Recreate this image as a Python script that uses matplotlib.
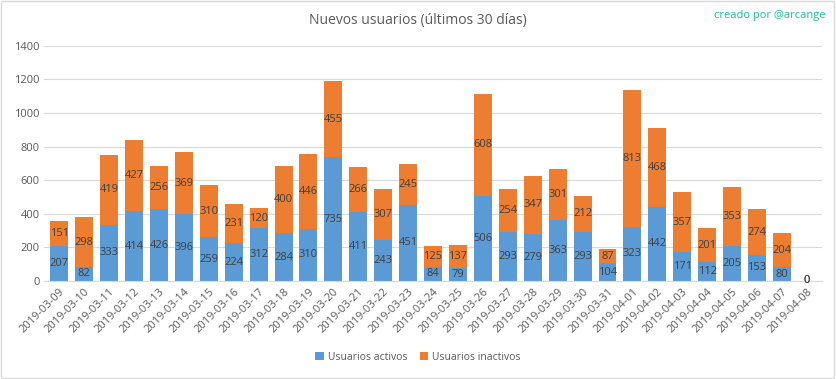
import numpy as np
import pandas as pd
import matplotlib.pyplot as plt

# Data
fechas = pd.date_range('2019-03-09', '2019-04-08').strftime('%Y-%m-%d').tolist()
activos = [207, 82, 333, 414, 426, 396, 259, 224, 312, 284, 310, 735, 411, 243, 451,
           84, 79, 506, 293, 279, 363, 293, 104, 323, 442, 171, 112, 205, 153, 80, 0]
inactivos = [151, 298, 419, 427, 256, 369, 310, 231, 120, 400, 446, 455, 266, 307, 245,
             125, 137, 608, 254, 347, 301, 212, 87, 813, 468, 357, 201, 353, 274, 204, 0]

plt.rcParams['font.family'] = ['Open Sans', 'DejaVu Sans']

fig = plt.figure(figsize=(8.36, 3.79), dpi=100)
ax = fig.add_axes([0.053, 0.259, 0.93, 0.62])

x = np.arange(len(fechas))
azul = '#5B9BD5'
naranja = '#ED7D31'
b1 = ax.bar(x, activos, width=0.72, color=azul, label='Usuarios activos', zorder=2)
b2 = ax.bar(x, inactivos, width=0.72, bottom=activos, color=naranja,
            label='Usuarios inactivos', zorder=2)

# Value labels in the middle of each segment
for i in range(len(fechas)):
    ax.text(x[i], activos[i] / 2, str(activos[i]), ha='center', va='center',
            fontsize=8, color='#404040', zorder=3)
    ax.text(x[i], activos[i] + inactivos[i] / 2, str(inactivos[i]), ha='center',
            va='center', fontsize=8, color='#404040', zorder=3)

ax.set_ylim(0, 1400)
ax.set_yticks(range(0, 1401, 200))
ax.set_xlim(-0.6, len(fechas) - 0.4)
ax.set_xticks(x)
ax.set_xticklabels(fechas, rotation=45, ha='right', rotation_mode='anchor')
ax.tick_params(axis='both', length=0, labelsize=8, colors='#595959')
ax.tick_params(axis='x', pad=4)
ax.grid(axis='y', color='#D9D9D9', linewidth=0.8, zorder=0)
for s in ['top', 'right', 'left']:
    ax.spines[s].set_visible(False)
ax.spines['bottom'].set_color('#D9D9D9')

fig.text(0.5, 0.945, 'Nuevos usuarios (últimos 30 días)', ha='center', va='center',
         fontsize=10, color='#595959')
fig.text(0.988, 0.96, 'creado por @arcange', ha='right', va='center',
         fontsize=8, color='#1ABC9C')

fig.legend(handles=[b1, b2], loc='center', bbox_to_anchor=(0.5, 0.058), ncol=2,
           frameon=False, fontsize=7.5, handlelength=0.8, handleheight=0.8,
           columnspacing=1.2, handletextpad=0.4, labelcolor='#595959')

# light border around the figure
fig.patches.append(plt.Rectangle((0.001, 0.002), 0.997, 0.995, transform=fig.transFigure,
                                 fill=False, edgecolor='#D9D9D9', linewidth=1))

plt.savefig('out.png', dpi=100)
